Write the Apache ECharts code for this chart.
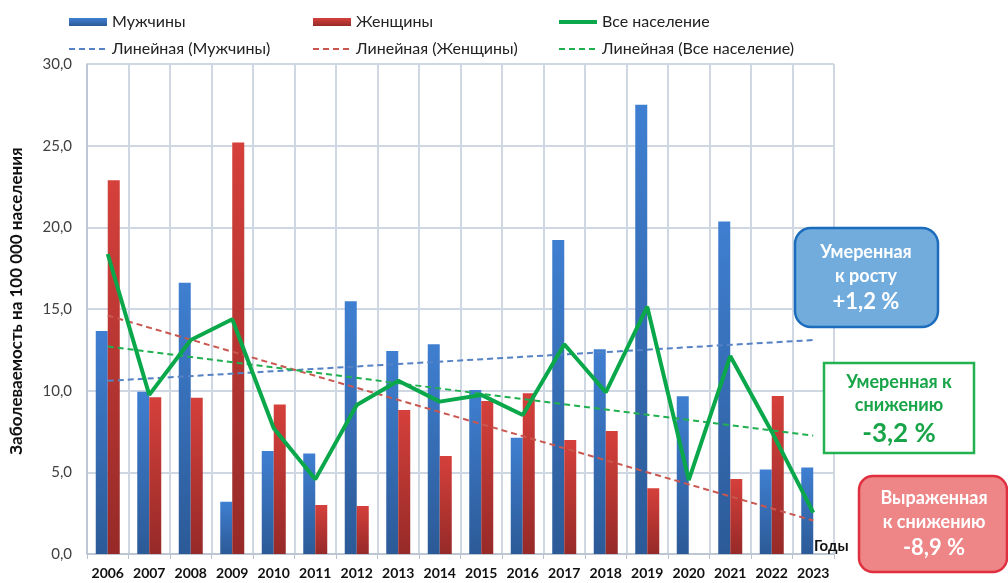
<!DOCTYPE html>
<html><head><meta charset="utf-8">
<script src="https://cdn.jsdelivr.net/npm/echarts@6/dist/echarts.min.js"></script>
<style>html,body{margin:0;padding:0;background:#fff}#c{width:1008px;height:583px}</style>
</head><body><div id="c"></div>
<script>
var years = ['2006','2007','2008','2009','2010','2011','2012','2013','2014','2015','2016','2017','2018','2019','2020','2021','2022','2023'];
var men   = [13.65, 9.94, 16.6, 3.2, 6.3, 6.16, 15.47, 12.43, 12.84, 10.04, 7.12, 19.23, 12.53, 27.5, 9.66, 20.35, 5.18, 5.29];
var women = [22.88, 9.59, 9.57, 25.2, 9.16, 3.0, 2.94, 8.82, 6.0, 9.37, 9.84, 6.98, 7.53, 4.02, null, 4.59, 9.67, null];
var all   = [18.37, 9.74, 13.1, 14.37, 7.7, 4.57, 9.12, 10.61, 9.33, 9.74, 8.51, 12.84, 9.9, 15.14, 4.53, 12.12, 7.49, 2.53];
var menTrend   = [10.6, 13.1];   // 2006 -> 2023
var womenTrend = [14.6, 2.05];
var allTrend   = [12.7, 7.25];

var F = 'Lato, "Open Sans", sans-serif';
function grad(top, bottom){return {type:'linear',x:0,y:0,x2:0,y2:1,colorStops:[{offset:0,color:top},{offset:1,color:bottom}]};}
function trend(arr){return [[0,arr[0]],[years.length-1,arr[1]]];}

var chart = echarts.init(document.getElementById('c'));
function legend(left, items){
  return {left:left, top:9, orient:'vertical', itemWidth:38, itemHeight:8, itemGap:11,
    textStyle:{fontFamily:F, fontSize:16, color:'#222'}, selectedMode:false, data:items};
}
var hideSym = {opacity:0};
chart.setOption({
  animation:false,
  grid:{left:87, right:174, top:64, bottom:29},
  legend:[
    legend(63, [{name:'Мужчины', icon:'rect'},{name:'Линейная (Мужчины)', itemStyle:hideSym}]),
    legend(307, [{name:'Женщины', icon:'rect'},{name:'Линейная (Женщины)', itemStyle:hideSym}]),
    legend(552, [{name:'Все население', itemStyle:hideSym, lineStyle:{width:4}},{name:'Линейная (Все население)', itemStyle:hideSym}])
  ],
  xAxis:{type:'category', data:years, boundaryGap:true,
    axisLine:{lineStyle:{color:'#b8c2d0', width:1.5}}, axisTick:{show:true, length:5, lineStyle:{color:'#b8c2d0'}},
    axisLabel:{interval:0, fontFamily:F, fontWeight:'bold', fontSize:14, color:'#111', margin:12},
    splitLine:{show:true, interval:0, lineStyle:{color:'#cfd7e3', width:2}}},
  yAxis:{type:'value', min:0, max:30, interval:5,
    name:'Заболеваемость на 100 000 населения', nameLocation:'middle', nameGap:62,
    nameTextStyle:{fontFamily:F, fontWeight:'bold', fontSize:17, color:'#111', padding:[0,0,0,16]},
    axisLine:{show:true, lineStyle:{color:'#b8c2d0', width:1.5}}, axisTick:{show:false},
    axisLabel:{fontFamily:F, fontSize:15, color:'#404040', margin:15, formatter:function(v){return v.toFixed(1).replace('.',',');}},
    splitLine:{lineStyle:{color:'#cfd7e3', width:2}}},
  series:[
    {name:'Мужчины', type:'bar', data:men, barWidth:12, barGap:'0%', itemStyle:{color:grad('#3f7fd1','#2c5a97')}},
    {name:'Женщины', type:'bar', data:women, barWidth:12, barGap:'0%', itemStyle:{color:grad('#d5403b','#962a28')}},
    {name:'Все население', type:'line', data:all, symbol:'none', lineStyle:{color:'#0aa84a', width:4}, itemStyle:{color:'#0aa84a'}, z:5},
    {name:'Линейная (Мужчины)', type:'line', data:trend(menTrend), symbol:'none', lineStyle:{color:'#5582c4', width:2, type:[6,4]}, itemStyle:{color:'#5582c4'}, z:4},
    {name:'Линейная (Женщины)', type:'line', data:trend(womenTrend), symbol:'none', lineStyle:{color:'#c9574f', width:2, type:[6,4]}, itemStyle:{color:'#c9574f'}, z:4},
    {name:'Линейная (Все население)', type:'line', data:trend(allTrend), symbol:'none', lineStyle:{color:'#20b050', width:2, type:[6,4]}, itemStyle:{color:'#20b050'}, z:4}
  ],
  graphic:[
    {type:'text', left:814, top:539, z:100, style:{text:'Годы', font:'bold 15px '+F, fill:'#111'}},
    {type:'rect', z:100, shape:{x:795, y:228, width:143, height:99, r:16}, style:{fill:'#72acdd', stroke:'#1c6cbd', lineWidth:2.5}},
    {type:'text', z:101, x:866, y:252, style:{text:'Умеренная', font:'bold 18px '+F, fill:'#fff', textAlign:'center', textVerticalAlign:'middle'}},
    {type:'text', z:101, x:866, y:276, style:{text:'к росту', font:'bold 18px '+F, fill:'#fff', textAlign:'center', textVerticalAlign:'middle'}},
    {type:'text', z:101, x:866, y:302, style:{text:'+1,2 %', font:'bold 22px '+F, fill:'#fff', textAlign:'center', textVerticalAlign:'middle'}},
    {type:'rect', z:100, shape:{x:824, y:363, width:150, height:90}, style:{fill:'#fff', stroke:'#22b24f', lineWidth:2.5}},
    {type:'text', z:101, x:899, y:382, style:{text:'Умеренная к', font:'bold 18px '+F, fill:'#18a448', textAlign:'center', textVerticalAlign:'middle'}},
    {type:'text', z:101, x:899, y:405, style:{text:'снижению', font:'bold 18px '+F, fill:'#18a448', textAlign:'center', textVerticalAlign:'middle'}},
    {type:'text', z:101, x:899, y:434, style:{text:'-3,2 %', font:'bold 26px '+F, fill:'#18a448', textAlign:'center', textVerticalAlign:'middle'}},
    {type:'rect', z:100, shape:{x:859, y:476, width:148, height:96, r:14}, style:{fill:'#ee8587', stroke:'#e0303f', lineWidth:2.5}},
    {type:'text', z:101, x:934, y:498, style:{text:'Выраженная', font:'bold 18px '+F, fill:'#fff', textAlign:'center', textVerticalAlign:'middle'}},
    {type:'text', z:101, x:934, y:522, style:{text:'к снижению', font:'bold 18px '+F, fill:'#fff', textAlign:'center', textVerticalAlign:'middle'}},
    {type:'text', z:101, x:934, y:548, style:{text:'-8,9 %', font:'bold 22px '+F, fill:'#fff', textAlign:'center', textVerticalAlign:'middle'}}
  ]
});
</script></body></html>
